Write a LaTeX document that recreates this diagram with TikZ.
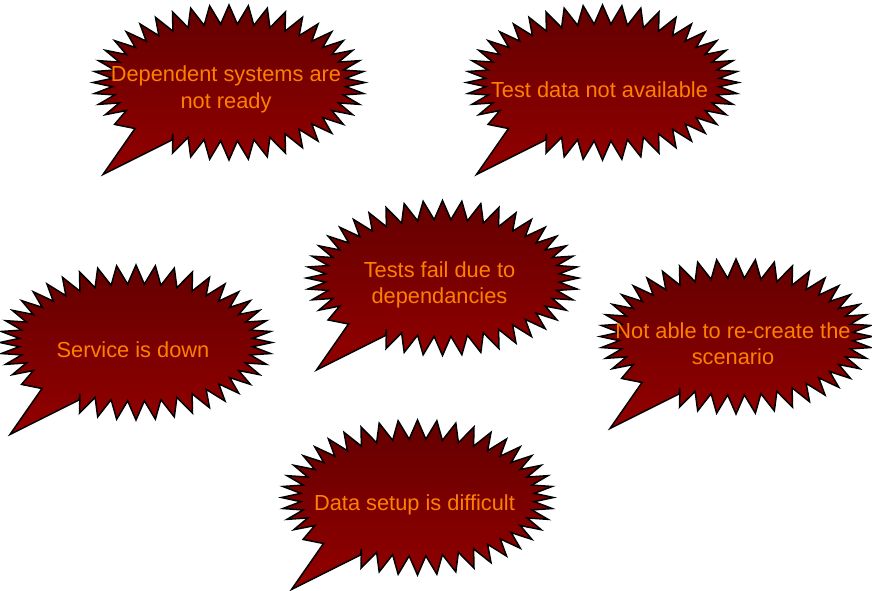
\documentclass[tikz,border=0pt]{standalone}
\usepackage{fontspec}
\setmainfont{Liberation Sans}
\definecolor{shouttop}{HTML}{640000}
\definecolor{shoutbot}{HTML}{930000}
\definecolor{shouttext}{HTML}{FF8000}
\tikzset{
  shoutshape/.style={draw=black, line width=1.5pt, line join=miter, top color=shouttop, bottom color=shoutbot},
  shouttxt/.style={text=shouttext, align=center, font=\fontsize{21.8}{26.5}\selectfont, inner sep=0pt}
}
% #1 name, #2 cx, #3 cy, #4 text
\newcommand{\shoutbubble}[4]{%
  \path[shoutshape] (#2-94,#3+46)
    -- plot[domain=147.2727:478.6364, samples=82, variable=\t]
      ({#2 + (117 + 19*(1+cos(44*(\t-270)))/2)*cos(\t)},
       {#3 + (58.5 + 19*(1+cos(44*(\t-270)))/2)*sin(\t)})
    -- (#2-57,#3+57.5) -- (#2-126,#3+92) -- cycle;
  \node[shouttxt] (#1) at (#2-3,#3+7) {#4};
}
\begin{document}
\begin{tikzpicture}[x=1pt,y=-1pt]
\useasboundingbox (0,0) rectangle (872,590);
\shoutbubble{b1}{229}{82.5}{Dependent systems are\\not ready}
\shoutbubble{b2}{602.5}{82.5}{Test data not available}
\shoutbubble{b3}{442.5}{278}{Tests fail due to\\dependancies}
\shoutbubble{b4}{136}{342.5}{Service is down}
\shoutbubble{b5}{736}{336.5}{Not able to re-create the\\scenario}
\shoutbubble{b6}{417.5}{497.5}{Data setup is difficult}
\end{tikzpicture}
\end{document}
